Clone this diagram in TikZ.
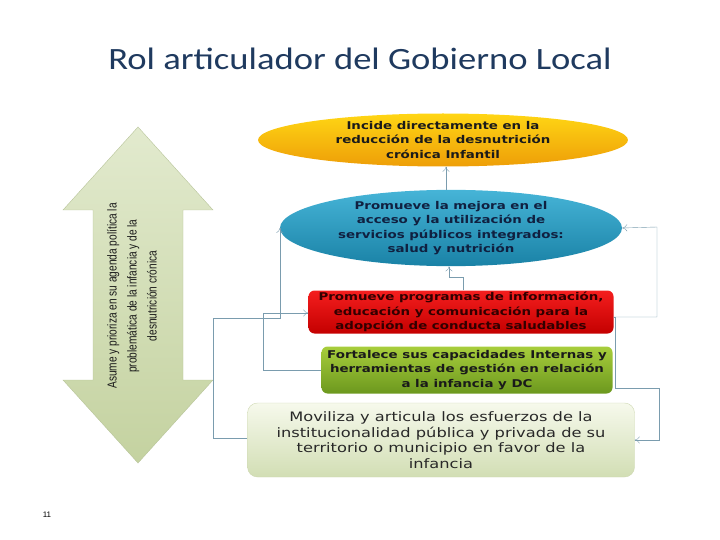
\documentclass[tikz,border=0pt]{standalone}
\usepackage{fontspec}
\usetikzlibrary{shapes.geometric,arrows.meta}
\setmainfont{Carlito}
\newfontfamily\titlefont[FakeStretch=1.18]{Carlito}
\newfontfamily\boxfont[FakeStretch=1.25]{DejaVu Sans}
\newfontfamily\narrowfont[FakeStretch=0.78]{Liberation Sans}
\newfontfamily\numfont{Liberation Sans}
\definecolor{titlenavy}{HTML}{1F3A5F}
\definecolor{linkgray}{HTML}{7A9CAE}
\definecolor{boxtext}{HTML}{1A1A1A}
\begin{document}
\begin{tikzpicture}
[x=1pt,y=-1pt,
  ovaldecorate/.style={shape=ellipse,inner sep=0pt,draw=none,align=center,
    font=\boxfont\bfseries\fontsize{10.7}{14.5}\selectfont,text=boxtext},
  boxdecorate/.style={shape=rectangle,rounded corners=6pt,inner sep=0pt,align=center,
    font=\boxfont\bfseries\fontsize{10.7}{14.8}\selectfont,text=boxtext},
  linkdecorate/.style={draw=linkgray,thin,-{To[length=5pt,width=7pt]}}]
\useasboundingbox (0,0) rectangle (720,540);
% title and page number
\node (title) at (360,59) [font=\titlefont\fontsize{31}{35}\selectfont,text=titlenavy] {Rol articulador del Gobierno Local};
\node (num) at (47,515) [font=\numfont\fontsize{8}{9}\selectfont] {11};
% double arrow on the left
\path[draw={rgb,255:red,184;green,196;blue,154},left color={rgb,255:red,226;green,234;blue,206},
  right color={rgb,255:red,196;green,210;blue,160},shading angle=0]
  (138,127) -- (213,210) -- (183,210) -- (183,380) -- (213,380) -- (138,463)
  -- (63,380) -- (93,380) -- (93,210) -- (63,210) -- cycle;
\node (asume) at (132,296) [rotate=90,align=center,
  font=\narrowfont\fontsize{13}{20}\selectfont,text=boxtext]
  {Asume y prioriza en su agenda política la\\problemática de la infancia y de la\\desnutrición crónica};
% nodes or boxes
\node (incide) at (443,140) [ovaldecorate,minimum width=370pt,minimum height=53pt,
  top color={rgb,255:red,255;green,214;blue,20},bottom color={rgb,255:red,238;green,158;blue,8}]
  {Incide directamente en la\\reducción de la desnutrición\\crónica Infantil};
\node (mejora) at (451,228) [ovaldecorate,minimum width=342pt,minimum height=69pt,
  top color={rgb,255:red,70;green,180;blue,215},bottom color={rgb,255:red,26;green,130;blue,166},
  text={rgb,255:red,16;green,32;blue,64}]
  {Promueve la mejora en el\\acceso y la utilización de\\servicios públicos integrados:\\salud y nutrición};
\node (programas) at (461,312) [boxdecorate,minimum width=305pt,minimum height=43pt,
  top color={rgb,255:red,244;green,30;blue,30},bottom color={rgb,255:red,196;green,0;blue,0},
  text={rgb,255:red,50;green,0;blue,0}]
  {Promueve programas de información,\\educación y comunicación para la\\adopción de conducta saludables};
\node (fortalece) at (467,370) [boxdecorate,minimum width=291pt,minimum height=47pt,
  top color={rgb,255:red,168;green,206;blue,60},bottom color={rgb,255:red,108;green,152;blue,30}]
  {Fortalece sus capacidades Internas y\\herramientas de gestión en relación\\a la infancia y DC};
\node (moviliza) at (441,440) [boxdecorate,rounded corners=10pt,minimum width=387pt,minimum height=74pt,
  draw={rgb,255:red,206;green,216;blue,178},
  top color={rgb,255:red,246;green,249;blue,236},bottom color={rgb,255:red,210;green,222;blue,180},
  font=\boxfont\fontsize{13}{15.5}\selectfont,text={rgb,255:red,40;green,40;blue,40}]
  {Moviliza y articula los esfuerzos de la\\institucionalidad pública y privada de su\\territorio o municipio en favor de la\\infancia};
% connectors
\draw[linkdecorate] (mejora.north -| 446,0) -- (incide.south -| 446,0);
\draw[linkdecorate] (programas.north -| 463,0) -- (463,277) -- (449,277) -- (mejora.south -| 449,0);
\draw[linkdecorate] (programas.east |- 0,317) -- (657,317) -- (657,227) -- (mejora.east);
\draw[linkdecorate] (programas.east |- 0,317) -- (615,317) -- (615,388) -- (659,388) -- (659,440) -- (moviliza.east);
\draw[linkdecorate] (fortalece.west) -- (263,370) -- (263,313) -- (programas.west |- 0,313);
\draw[linkdecorate] (moviliza.west |- 0,438) -- (213,438) -- (213,318) -- (mejora.west |- 0,318) -- (mejora.west);
\end{tikzpicture}
\end{document}
